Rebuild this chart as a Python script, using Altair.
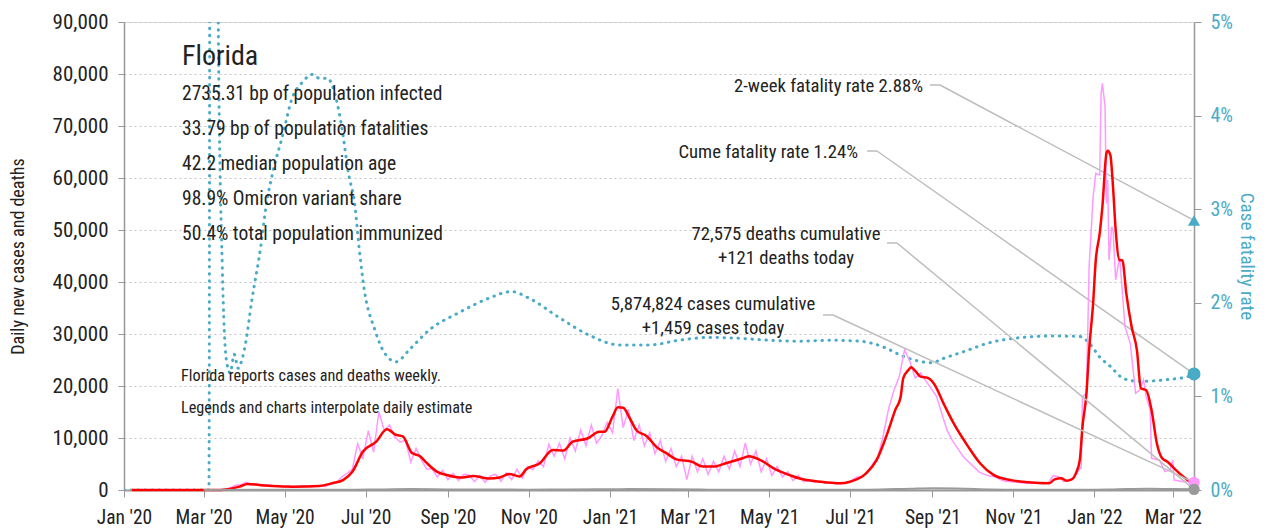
import altair as alt
import pandas as pd

FONT = "Roboto Condensed, Liberation Sans Narrow, DejaVu Sans Condensed, sans-serif"
TEAL = "#4aabc6"
PINK = "#ff99ff"
RED = "#ff0000"
GRAY = "#9a9a9a"
LEAD = "#bdbdbd"
INK = "#222222"

# ---------------- data ----------------
# 7-day average of daily new cases (red)
avg_dates = [
    "2020-01-07", "2020-03-10", "2020-03-18", "2020-03-28", "2020-04-03", "2020-04-12", "2020-04-22", "2020-05-07",
    "2020-05-27", "2020-06-06", "2020-06-14", "2020-06-21", "2020-06-29", "2020-07-09", "2020-07-17", "2020-07-24",
    "2020-07-29", "2020-08-05", "2020-08-11", "2020-08-16", "2020-08-24", "2020-08-31", "2020-09-12", "2020-09-20",
    "2020-10-02", "2020-10-10", "2020-10-17", "2020-10-25", "2020-10-30", "2020-11-09", "2020-11-19", "2020-11-27",
    "2020-12-04", "2020-12-15", "2020-12-24", "2020-12-28", "2021-01-03", "2021-01-07", "2021-01-11", "2021-01-16",
    "2021-01-21", "2021-01-29", "2021-02-05", "2021-02-13", "2021-02-20", "2021-03-04", "2021-03-12", "2021-03-20",
    "2021-03-30", "2021-04-11", "2021-04-16", "2021-04-24", "2021-05-07", "2021-05-16", "2021-05-24", "2021-06-08",
    "2021-06-23", "2021-07-01", "2021-07-13", "2021-07-21", "2021-07-29", "2021-08-04", "2021-08-08", "2021-08-10",
    "2021-08-14", "2021-08-16", "2021-08-19", "2021-08-23", "2021-08-28", "2021-09-02", "2021-09-10", "2021-09-17",
    "2021-09-28", "2021-10-07", "2021-10-17", "2021-10-30", "2021-11-12", "2021-11-28", "2021-12-02", "2021-12-07",
    "2021-12-11", "2021-12-15", "2021-12-18", "2021-12-21", "2021-12-23", "2021-12-26", "2021-12-28", "2021-12-31",
    "2022-01-02", "2022-01-05", "2022-01-07", "2022-01-10", "2022-01-11", "2022-01-13", "2022-01-15", "2022-01-17",
    "2022-01-20", "2022-01-22", "2022-01-25", "2022-01-29", "2022-02-02", "2022-02-05", "2022-02-09", "2022-02-13",
    "2022-02-17", "2022-02-21", "2022-02-25", "2022-03-02", "2022-03-09", "2022-03-17",
]
avg_values = [
    0, 0, 100, 640, 1150, 960, 770, 640,
    770, 1300, 1900, 3500, 7400, 9300, 11700, 10600,
    10300, 7100, 6500, 5200, 3500, 2900, 2400, 2700,
    2200, 2400, 3100, 2600, 4000, 5100, 7700, 7600,
    9300, 9900, 11200, 11200, 14100, 15900, 15800, 13800,
    11500, 10300, 8300, 7000, 5900, 5400, 4500, 4500,
    5200, 6100, 6500, 5800, 3800, 2900, 2200, 1600,
    1280, 1600, 3200, 5800, 10900, 15400, 17900, 21500,
    23100, 23600, 22900, 21800, 21600, 20500, 16300, 12800,
    8300, 5100, 2900, 1900, 1500, 1300, 2050, 2250,
    1800, 2050, 3200, 5800, 12200, 18600, 26900, 35900,
    44200, 49400, 54500, 64700, 65250, 64400, 58300, 50000,
    44200, 44200, 37800, 31400, 26900, 19550, 19200, 15400,
    9000, 6100, 5450, 4170, 2560, 1100,
]

# daily reported cases (pink), every 4 days from 2020-03-01 to 2021-12-13
daily_start = "2020-03-01"
daily_values = [
    0, 0, 10, 50, 150, 400, 900, 1000, 1500, 1100,
    1200, 700, 1000, 800, 700, 600, 800, 500, 700, 800,
    600, 700, 800, 700, 1300, 1400, 2500, 3200, 4000, 8900,
    6100, 11400, 7300, 15000, 11500, 12500, 10200, 9200, 9600, 5400,
    8000, 5800, 4000, 4100, 2500, 3800, 2000, 3200, 1800, 3000,
    2900, 1600, 2800, 1500, 2700, 3000, 1700, 3300, 2000, 4000,
    2300, 4500, 3900, 5600, 4500, 8800, 6500, 9000, 6000, 10000,
    7500, 11500, 8500, 12500, 9000, 10500, 13000, 11000, 19500, 12000,
    15500, 9500, 12500, 8500, 11000, 7000, 9500, 5500, 8000, 4500,
    6500, 2000, 6500, 3500, 6000, 3000, 5500, 3500, 6500, 4000,
    7500, 4500, 9000, 5000, 7500, 3500, 6000, 2800, 4500, 2500,
    3500, 1800, 2800, 1600, 1800, 1500, 1700, 1300, 1400, 1300,
    1200, 1400, 1800, 2500, 2500, 3500, 5000, 6400, 10600, 15700,
    19200, 21800, 27000, 24700, 21500, 22500, 21000, 19500, 18000, 14700,
    11500, 9500, 8000, 6500, 5450, 4500, 3500, 3000, 2700, 2560,
    2000, 1700, 1600, 1500, 1400, 1300, 1300, 1300, 1200, 1300,
    2750, 2560, 1600, 2000,
]
# daily reported cases (pink), Omicron wave
omicron_dates = [
    "2021-12-17", "2021-12-21", "2021-12-22", "2021-12-23", "2021-12-26", "2021-12-28", "2021-12-31",
    "2022-01-02", "2022-01-05", "2022-01-06", "2022-01-07", "2022-01-09", "2022-01-10", "2022-01-11",
    "2022-01-12", "2022-01-14", "2022-01-15", "2022-01-17", "2022-01-20", "2022-01-24", "2022-01-28",
    "2022-02-01", "2022-02-04", "2022-02-07", "2022-02-09", "2022-02-12", "2022-02-13", "2022-02-19",
    "2022-02-23", "2022-02-27", "2022-03-01", "2022-03-02", "2022-03-09", "2022-03-16", "2022-03-17",
]
omicron_values = [
    2500, 4170, 4170, 17950, 18600, 42950, 56400,
    60900, 60600, 76300, 78200, 73700, 55100, 59600,
    44200, 50600, 50000, 40400, 44900, 31400, 28200,
    18600, 19200, 21150, 17950, 15400, 6100, 5770,
    3530, 3850, 5770, 1920, 1600, 1920, 1459,
]

# daily deaths (gray)
death_dates = [
    "2020-03-01", "2020-04-15", "2020-05-15", "2020-06-15", "2020-07-15", "2020-08-05", "2020-09-01",
    "2020-10-01", "2020-11-01", "2020-12-01", "2021-01-15", "2021-02-15", "2021-03-15", "2021-04-15",
    "2021-05-15", "2021-06-15", "2021-07-15", "2021-08-15", "2021-09-01", "2021-09-20", "2021-10-15",
    "2021-11-15", "2021-12-15", "2022-01-15", "2022-02-10", "2022-03-01", "2022-03-17",
]
death_values = [
    0, 50, 40, 40, 120, 180, 120,
    90, 60, 90, 170, 130, 70, 60,
    50, 40, 60, 250, 350, 300, 120,
    40, 30, 120, 250, 200, 121,
]

# cumulative case fatality rate, percent (teal dotted)
cfr_dates = [
    "2020-01-01", "2020-03-05", "2020-03-06", "2020-03-11", "2020-03-12", "2020-03-15", "2020-03-18",
    "2020-03-21", "2020-03-24", "2020-03-27", "2020-03-30", "2020-04-02", "2020-04-06", "2020-04-13",
    "2020-04-17", "2020-04-22", "2020-04-29", "2020-05-07", "2020-05-14", "2020-05-22", "2020-05-27",
    "2020-06-02", "2020-06-09", "2020-06-13", "2020-06-18", "2020-06-23", "2020-06-26", "2020-06-30",
    "2020-07-08", "2020-07-15", "2020-07-24", "2020-08-03", "2020-08-18", "2020-09-10", "2020-10-02",
    "2020-10-19", "2020-11-01", "2020-11-24", "2020-12-17", "2021-01-08", "2021-01-31", "2021-02-22",
    "2021-03-17", "2021-04-09", "2021-05-01", "2021-05-24", "2021-06-16", "2021-07-08", "2021-07-29",
    "2021-08-08", "2021-08-18", "2021-08-31", "2021-09-10", "2021-09-25", "2021-10-13", "2021-11-01",
    "2021-12-01", "2021-12-21", "2021-12-28", "2022-01-05", "2022-01-13", "2022-01-23", "2022-02-04",
    "2022-02-25", "2022-03-12", "2022-03-17",
]
cfr_values = [
    0, 0, 9.0, 9.0, 5.0, 2.4, 1.4,
    1.25, 1.45, 1.3, 1.4, 1.6, 2.0, 2.6,
    3.03, 3.39, 3.76, 4.2, 4.35, 4.44, 4.40,
    4.40, 4.17, 3.88, 3.39, 3.03, 2.6, 2.14,
    1.71, 1.47, 1.37, 1.50, 1.71, 1.90, 2.05,
    2.12, 2.05, 1.84, 1.65, 1.55, 1.55, 1.60,
    1.63, 1.62, 1.60, 1.59, 1.60, 1.59, 1.51,
    1.44, 1.39, 1.36, 1.41, 1.48, 1.57, 1.62,
    1.645, 1.64, 1.57, 1.42, 1.32, 1.19, 1.16,
    1.18, 1.21, 1.24,
]

last_date = "2022-03-17"
two_week_cfr = 2.88
cume_cfr = 1.24
cases_today = 1459
deaths_today = 121

state = "Florida"
stats_lines = [
    "2735.31 bp of population infected",
    "33.79 bp of population fatalities",
    "42.2 median population age",
    "98.9% Omicron variant share",
    "50.4% total population immunized",
]
notes = [
    "Florida reports cases and deaths weekly.",
    "Legends and charts interpolate daily estimates",
]
label_two_week = "2-week fatality rate 2.88%"
label_cume = "Cume fatality rate 1.24%"
label_deaths = ["72,575 deaths cumulative", "+121 deaths today"]
label_cases = ["5,874,824 cases cumulative", "+1,459 cases today"]

tick_months = [(2020, 1), (2020, 3), (2020, 5), (2020, 7), (2020, 9), (2020, 11),
               (2021, 1), (2021, 3), (2021, 5), (2021, 7), (2021, 9), (2021, 11),
               (2022, 1), (2022, 3)]

# ---------------- tables ----------------
df_avg = pd.DataFrame({"date": pd.to_datetime(avg_dates), "v": avg_values})
df_daily = pd.concat([
    pd.DataFrame({"date": pd.date_range(daily_start, periods=len(daily_values), freq="4D"), "v": daily_values}),
    pd.DataFrame({"date": pd.to_datetime(omicron_dates), "v": omicron_values}),
], ignore_index=True)
df_death = pd.DataFrame({"date": pd.to_datetime(death_dates), "v": death_values})
df_cfr = pd.DataFrame({"date": pd.to_datetime(cfr_dates), "r": [c / 100 for c in cfr_values]})
ld = pd.to_datetime([last_date])
df_end_cases = pd.DataFrame({"date": ld, "v": [cases_today]})
df_end_deaths = pd.DataFrame({"date": ld, "v": [deaths_today]})
df_end_2w = pd.DataFrame({"date": ld, "r": [two_week_cfr / 100]})
df_end_cume = pd.DataFrame({"date": ld, "r": [cume_cfr / 100]})

# ---------------- layout ----------------
W, H = 1070, 468
OX, OY = 124, 22  # page position of plot origin

xs = alt.Scale(domain=[alt.DateTime(year=2020, month=1, date=1), alt.DateTime(year=2022, month=3, date=17)])
x_axis = alt.Axis(values=[alt.DateTime(year=y, month=m, date=1) for y, m in tick_months],
                  format="%b '%y", title=None, grid=False, labelFontSize=19.5, labelColor=INK,
                  labelFont=FONT, domainColor="#999999", domainWidth=2, tickColor="#999999",
                  tickSize=7, labelPadding=11, labelFlush=False)
X = alt.X("date:T", scale=xs, axis=x_axis)

ys_cases = alt.Scale(domain=[0, 90000], nice=False)
y_cases_axis = alt.Axis(orient="left", values=list(range(0, 90001, 10000)), format=",.0f",
                        title="Daily new cases and deaths", grid=True, gridColor="#c4c4c4",
                        gridDash=[2, 3], gridWidth=1, domainColor="#999999", domainWidth=1.5,
                        tickColor="#999999", tickSize=6, labelFontSize=21, labelPadding=10,
                        labelColor=INK, labelFont=FONT, titleFont=FONT, titleFontSize=18,
                        titleFontWeight="normal", titleColor=INK, titlePadding=25)
YC = alt.Y("v:Q", scale=ys_cases, axis=y_cases_axis)

ys_cfr = alt.Scale(domain=[0, 0.05], nice=False)
y_cfr_axis = alt.Axis(orient="right", values=[0, 0.01, 0.02, 0.03, 0.04, 0.05], format=".0%",
                      title="Case fatality rate", grid=False, domainColor="#999999", domainWidth=1.5,
                      tickColor="#999999", tickSize=7, labelFontSize=20, labelPadding=9,
                      labelColor=TEAL, labelFont=FONT, titleFont=FONT, titleFontSize=19,
                      titleFontWeight="normal", titleColor=TEAL, titlePadding=4)
YR = alt.Y("r:Q", scale=ys_cfr, axis=y_cfr_axis)


def txt(s, px, py, size, align="left", color=INK, limit=None):
    kw = dict(align=align, baseline="alphabetic", font=FONT, fontSize=size, color=color)
    if limit:
        kw.update(limit=limit, ellipsis=" ")
    return alt.Chart(pd.DataFrame({"t": [s]})).mark_text(**kw).encode(
        x=alt.value(px - OX), y=alt.value(py - OY), text="t:N")


def leader(df, yenc, hx0, ax, ay):
    horiz = alt.Chart(pd.DataFrame({"a": [0]})).mark_rule(color=LEAD, strokeWidth=1.5).encode(
        x=alt.value(hx0 - OX), x2=alt.value(ax - OX), y=alt.value(ay - OY))
    diag = alt.Chart(df).mark_rule(color=LEAD, strokeWidth=1.5).encode(
        x=X, y=yenc, x2=alt.value(ax - OX), y2=alt.value(ay - OY))
    return [horiz, diag]


# ---------------- CFR group (right axis) ----------------
cfr_line = alt.Chart(df_cfr).mark_line(color=TEAL, strokeWidth=3, strokeDash=[0.5, 6.5],
                                       strokeCap="round", interpolate="monotone", clip=True).encode(x=X, y=YR)
tri = alt.Chart(df_end_2w).mark_point(shape="triangle-up", filled=True, size=150, color=TEAL, opacity=1).encode(x=X, y=YR)
cume_dot = alt.Chart(df_end_cume).mark_circle(size=170, color=TEAL, opacity=1).encode(x=X, y=YR)
cfr_group = alt.layer(
    cfr_line,
    *leader(df_end_2w, YR, 930, 940, 85),
    *leader(df_end_cume, YR, 867, 877, 151),
    tri, cume_dot,
)

# ---------------- cases group (left axis) ----------------
pink = alt.Chart(df_daily).mark_line(color=PINK, strokeWidth=1.5).encode(x=X, y=YC)
red = alt.Chart(df_avg).mark_line(color=RED, strokeWidth=2.5, interpolate="monotone").encode(x=X, y=YC)
gray = alt.Chart(df_death).mark_line(color=GRAY, strokeWidth=2, interpolate="monotone").encode(x=X, y=YC)
pink_dot = alt.Chart(df_end_cases).mark_circle(size=130, color=PINK, opacity=1).encode(x=X, y=YC)
gray_dot = alt.Chart(df_end_deaths).mark_circle(size=130, color=GRAY, opacity=1).encode(x=X, y=YC)

ANN = 18.7
texts = [txt(state, 182, 65, 28)]
for i, s in enumerate(stats_lines):
    texts.append(txt(s, 182, 100 + 35 * i, 19.5))
texts.append(txt(notes[0], 181, 381, 16.2))
texts.append(txt(notes[1], 181, 413, 16.2, limit=296))
texts.append(txt(label_two_week, 923, 92, ANN, align="right"))
texts.append(txt(label_cume, 858, 158, ANN, align="right"))
texts.append(txt(label_deaths[0], 786, 240, ANN, align="center"))
texts.append(txt(label_deaths[1], 786, 264, ANN, align="center"))
texts.append(txt(label_cases[0], 713, 310, ANN, align="center"))
texts.append(txt(label_cases[1], 713, 334, ANN, align="center"))

cases_group = alt.layer(
    pink, red, gray,
    *leader(df_end_deaths, YC, 887, 897, 243),
    *leader(df_end_cases, YC, 823, 833, 315),
    pink_dot, gray_dot,
    *texts,
)

chart = alt.layer(cfr_group, cases_group).resolve_scale(y="independent").properties(
    width=W, height=H,
    padding={"left": OX - 8, "top": OY - 8, "right": 66, "bottom": 38},
    autosize=alt.AutoSizeParams(type="none"),
).configure_view(stroke=None).configure(font=FONT)

chart.save("out.html", embed_options={"renderer": "svg", "actions": False})
